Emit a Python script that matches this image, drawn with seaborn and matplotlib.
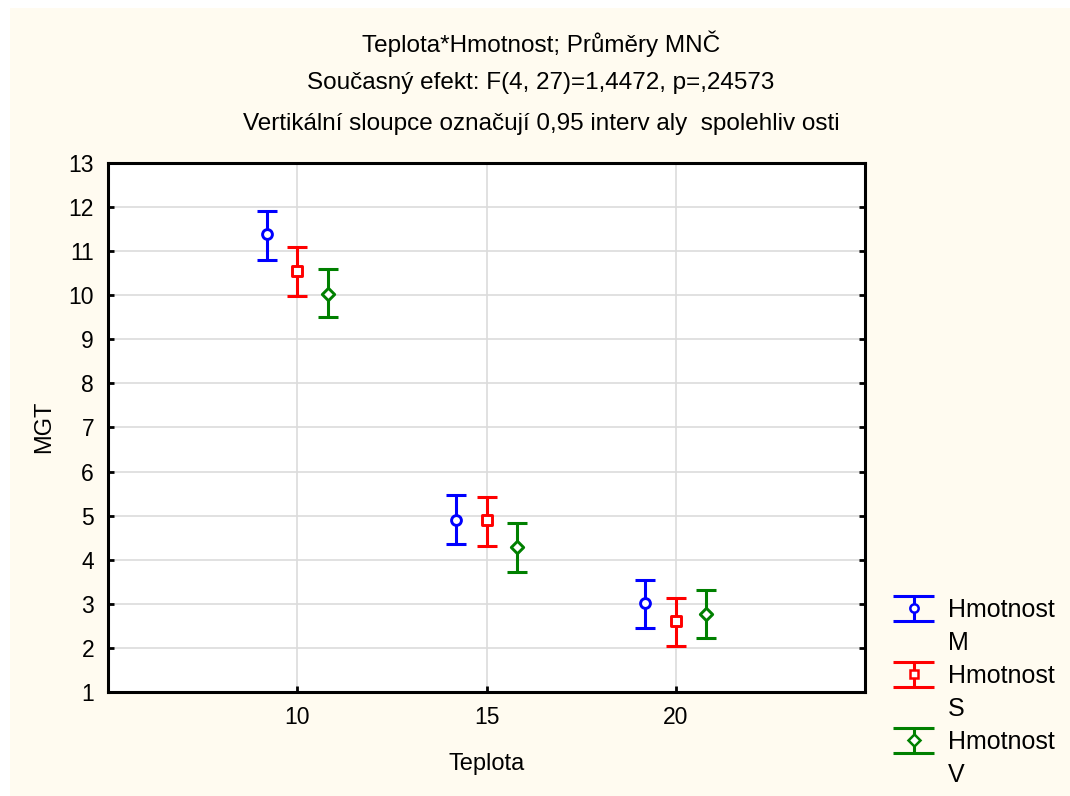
import numpy as np
import pandas as pd
import matplotlib
matplotlib.use("Agg")
import matplotlib.pyplot as plt
import seaborn as sns
from matplotlib.legend_handler import HandlerBase
from matplotlib.lines import Line2D
from matplotlib.patches import Rectangle

# ---- data ----
teplota = [10, 15, 20]
groups = ["M", "S", "V"]
mean_M = [11.39, 4.90, 3.02]
low_M = [10.80, 4.36, 2.45]
high_M = [11.91, 5.47, 3.54]
mean_S = [10.55, 4.90, 2.61]
low_S = [9.98, 4.31, 2.04]
high_S = [11.09, 5.42, 3.13]
mean_V = [10.03, 4.29, 2.77]
low_V = [9.51, 3.72, 2.22]
high_V = [10.60, 4.83, 3.31]
yticks = list(range(1, 14))
xticks = [10, 15, 20]

titles = ["Teplota*Hmotnost; Průměry MNČ",
          "Současný efekt: F(4, 27)=1,4472, p=,24573",
          "Vertikální sloupce označují 0,95 interv aly  spolehliv osti"]

means = {"M": mean_M, "S": mean_S, "V": mean_V}
lows = {"M": low_M, "S": low_S, "V": low_V}
highs = {"M": high_M, "S": high_S, "V": high_V}
rows = []
for g in groups:
    for i, t in enumerate(teplota):
        rows.append(dict(Teplota=t, Hmotnost=g, MGT=means[g][i],
                         low=lows[g][i], high=highs[g][i]))
df = pd.DataFrame(rows)

offsets = {"M": -0.8, "S": 0.0, "V": 0.8}
colors = {"M": "#0000FF", "S": "#FF0000", "V": "#008000"}
markers = {"M": "o", "S": "s", "V": "D"}
msizes = {"M": 50, "S": 42, "V": 40}
df["xpos"] = df["Teplota"] + df["Hmotnost"].map(offsets)

sns.set_style("white")
plt.rcParams["font.family"] = ["Liberation Sans", "DejaVu Sans"]
plt.rcParams["text.color"] = "black"
plt.rcParams["axes.labelcolor"] = "black"
plt.rcParams["xtick.color"] = "black"
plt.rcParams["ytick.color"] = "black"

fig = plt.figure(figsize=(10.70, 7.96), dpi=100)
fig.patch.set_facecolor("white")
fig.patches.append(Rectangle((10 / 1070, 0), 1, 1 - 8 / 796, transform=fig.transFigure,
                             facecolor="#FFFBF0", edgecolor="none", zorder=-10))

ax = fig.add_axes([108 / 1070, 1 - 692 / 796, (865 - 108) / 1070, (692 - 163) / 796])
ax.set_facecolor("white")

for g in groups:
    sub = df[df["Hmotnost"] == g]
    yerr = np.vstack([sub["MGT"] - sub["low"], sub["high"] - sub["MGT"]])
    ax.errorbar(sub["xpos"], sub["MGT"], yerr=yerr, fmt="none", ecolor=colors[g],
                elinewidth=2.2, capsize=7.2, capthick=2.2, zorder=3)
    sns.scatterplot(data=sub, x="xpos", y="MGT", ax=ax, marker=markers[g],
                    s=msizes[g], facecolor="white", edgecolor=colors[g],
                    linewidth=2.1, zorder=4, legend=False)

ax.set_xlim(5, 25)
ax.set_ylim(1, 13)
ax.set_xticks(xticks)
ax.set_yticks(yticks)
ax.grid(True, color="#DCDCDC", linewidth=1.2)
ax.set_axisbelow(True)
for s in ax.spines.values():
    s.set_color("black")
    s.set_linewidth(2.2)
ax.tick_params(direction="in", length=4, width=2, labelsize=16.5, colors="black",
               right=True, left=True, bottom=True, top=False)
ax.tick_params(axis="y", pad=10)
ax.tick_params(axis="x", pad=10)
ax.set_xlabel("")
ax.set_ylabel("")

fig.text(44 / 1070, 1 - 427 / 796, "MGT", rotation=90, ha="center", va="center", fontsize=17)
fig.text(487 / 1070, 1 - 764 / 796, "Teplota", ha="center", va="center", fontsize=17)

for t, yp in zip(titles, [44, 83, 124]):
    fig.text(541 / 1070, 1 - yp / 796, t, ha="center", va="center", fontsize=17.5)


class ErrHandler(HandlerBase):
    def __init__(self, color, marker):
        super().__init__()
        self.color = color
        self.marker = marker

    def create_artists(self, legend, orig_handle, xdescent, ydescent, width, height,
                       fontsize, trans):
        x0, x1 = -xdescent, -xdescent + width
        cx = (x0 + x1) / 2
        cy = -ydescent + height / 2
        hh = 9
        lw = 2.2
        arts = [
            Line2D([x0, x1], [cy + hh, cy + hh], color=self.color, lw=lw, solid_capstyle="butt"),
            Line2D([x0, x1], [cy - hh, cy - hh], color=self.color, lw=lw, solid_capstyle="butt"),
            Line2D([cx, cx], [cy - hh, cy + hh], color=self.color, lw=lw),
            Line2D([cx], [cy], marker=self.marker, markersize=6, mfc="white",
                   mec=self.color, mew=1.8, linestyle="none"),
        ]
        for a in arts:
            a.set_transform(trans)
        return arts


handles, labels, hmap = [], [], {}
for g in groups:
    h = Line2D([], [], linestyle="none", label="Hmotnost")
    blank = Line2D([], [], linestyle="none")
    handles += [h, blank]
    labels += ["Hmotnost", g]
    hmap[h] = ErrHandler(colors[g], markers[g])

fig.legend(handles, labels, handler_map=hmap, loc="upper left",
           bbox_to_anchor=(893 / 1070, 1 - 598 / 796), frameon=False, fontsize=18,
           handlelength=1.65, handletextpad=0.55, labelspacing=0.36, borderaxespad=0,
           borderpad=0)

fig.savefig("out.png", dpi=100, facecolor=fig.get_facecolor())
